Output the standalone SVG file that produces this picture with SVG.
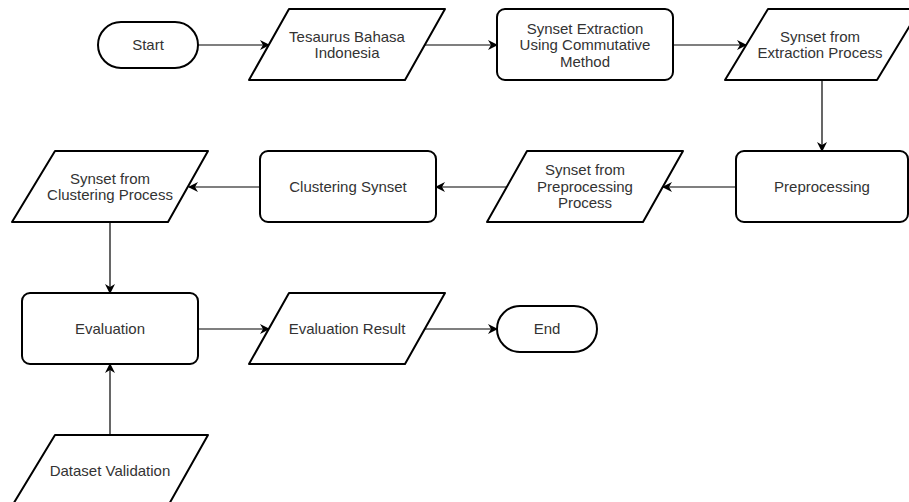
<svg xmlns="http://www.w3.org/2000/svg" width="909" height="502" viewBox="0 0 909 502">
<defs>
<style>
.s{fill:#fff;stroke:#000;stroke-width:2;stroke-linejoin:round}
.c{fill:none;stroke:#000;stroke-width:1.2}
text{font-family:"Liberation Sans",Arial,sans-serif;font-size:15px;fill:#333;text-anchor:middle}
</style>
<marker id="a" viewBox="0 0 10 10" refX="9" refY="5" markerWidth="10" markerHeight="10" markerUnits="userSpaceOnUse" orient="auto">
<path d="M0,0 L10,5 L0,10 L3,5 Z" fill="#000"/>
</marker>
</defs>
<rect width="909" height="502" fill="#fff"/>
<g id="connectors">
<line class="c" x1="198" y1="45" x2="269" y2="45" marker-end="url(#a)"/>
<line class="c" x1="425" y1="45" x2="497" y2="45" marker-end="url(#a)"/>
<line class="c" x1="673" y1="45" x2="746" y2="45" marker-end="url(#a)"/>
<line class="c" x1="822" y1="80" x2="822" y2="151" marker-end="url(#a)"/>
<line class="c" x1="736" y1="187" x2="663" y2="187" marker-end="url(#a)"/>
<line class="c" x1="507" y1="187" x2="436" y2="187" marker-end="url(#a)"/>
<line class="c" x1="260" y1="187" x2="189" y2="187" marker-end="url(#a)"/>
<line class="c" x1="110" y1="222" x2="110" y2="293" marker-end="url(#a)"/>
<line class="c" x1="198" y1="329" x2="269" y2="329" marker-end="url(#a)"/>
<line class="c" x1="425" y1="329" x2="497" y2="329" marker-end="url(#a)"/>
<line class="c" x1="110" y1="435" x2="110" y2="364" marker-end="url(#a)"/>
</g>
<g id="start">
<rect class="s" x="98" y="22" width="100" height="46" rx="23"/>
<text x="148" y="50">Start</text>
</g>
<g id="tesaurus">
<path class="s" d="M289,9 H445 L405,80 H249 Z"/>
<text x="347" y="42">Tesaurus Bahasa</text>
<text x="347" y="58">Indonesia</text>
</g>
<g id="extraction">
<rect class="s" x="497" y="9" width="176" height="71" rx="8"/>
<text x="585" y="34">Synset Extraction</text>
<text x="585" y="50">Using Commutative</text>
<text x="585" y="67">Method</text>
</g>
<g id="synset-extraction">
<path class="s" d="M768,9 H920 L877,80 H725 Z"/>
<text x="820" y="42">Synset from</text>
<text x="820" y="58">Extraction Process</text>
</g>
<g id="preprocessing">
<rect class="s" x="736" y="151" width="172" height="71" rx="8"/>
<text x="822" y="192">Preprocessing</text>
</g>
<g id="synset-preprocessing">
<path class="s" d="M527,151 H683 L643,222 H487 Z"/>
<text x="585" y="175">Synset from</text>
<text x="585" y="192">Preprocessing</text>
<text x="585" y="208">Process</text>
</g>
<g id="clustering">
<rect class="s" x="260" y="151" width="176" height="71" rx="8"/>
<text x="348" y="192">Clustering Synset</text>
</g>
<g id="synset-clustering">
<path class="s" d="M55,151 H208 L168,222 H12 Z"/>
<text x="110" y="184">Synset from</text>
<text x="110" y="200">Clustering Process</text>
</g>
<g id="evaluation">
<rect class="s" x="22" y="293" width="176" height="71" rx="8"/>
<text x="110" y="334">Evaluation</text>
</g>
<g id="evaluation-result">
<path class="s" d="M289,293 H445 L405,364 H249 Z"/>
<text x="347" y="334">Evaluation Result</text>
</g>
<g id="end">
<rect class="s" x="497" y="306" width="100" height="46" rx="23"/>
<text x="547" y="334">End</text>
</g>
<g id="dataset-validation">
<path class="s" d="M55,435 H208 L168,506 H12 Z"/>
<text x="110" y="476">Dataset Validation</text>
</g>
</svg>
